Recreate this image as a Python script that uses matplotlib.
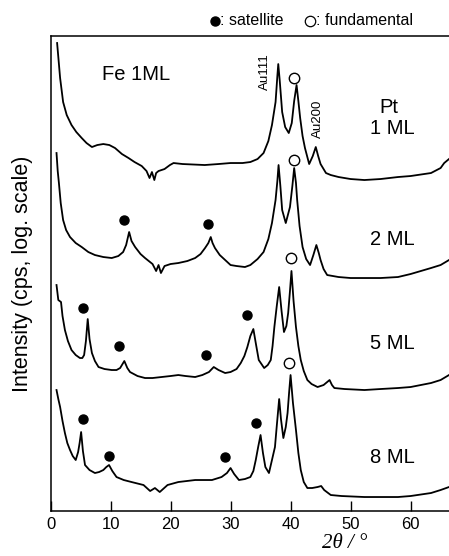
import matplotlib
matplotlib.use("Agg")
import matplotlib.pyplot as plt

plt.rcParams['font.family'] = ['Liberation Sans', 'DejaVu Sans']

# 2theta (deg) and stacked intensity (arb. units, log scale, offset)
tt_1ml = [1.1, 1.6, 2.1, 2.7, 3.5, 4.3, 5.2, 6.0, 6.9, 7.8, 8.8, 9.8, 10.75, 11.9, 13.0,
          14.0, 15.2, 16.0, 16.5, 16.9, 17.3, 17.6, 18.0, 19.0, 19.9, 20.5, 22.0, 25.7, 28.0,
          30.0, 32.0, 33.3, 34.5, 35.5, 36.3, 36.9, 37.5, 37.8, 37.95, 38.2, 38.6, 39.1, 39.7,
          40.2, 40.6, 41.0, 41.3, 41.6, 42.0, 42.4, 43.1, 43.7, 44.2, 44.6, 45.0, 45.9, 46.7,
          48.0, 50.0, 52.3, 55.0, 57.9, 60.0, 63.4, 65.0, 65.6, 66.4]
int_1ml = [468, 433, 409, 396, 386, 379, 373, 368, 364, 366, 367, 366, 363, 357, 353,
           349, 345, 340, 333, 339, 331, 338, 340, 342, 346, 348, 347, 346, 347,
           348, 348, 349, 352, 358, 370, 386, 409, 435, 447, 430, 399, 384, 378,
           388, 410, 426, 410, 393, 375, 363, 347, 355, 364, 355, 347, 338, 336,
           334, 332, 331, 332, 334, 335, 338, 343, 348, 352]

tt_2ml = [1.0, 1.2, 1.4, 1.7, 2.1, 2.6, 3.25, 4.2, 5.2, 6.3, 7.4, 8.8, 10.2, 11.3, 12.1,
          12.6, 13.1, 13.5, 14.1, 15.0, 15.75, 17.0, 17.6, 18.0, 18.4, 19.0, 20.0, 21.3, 22.8,
          24.1, 25.0, 25.75, 26.3, 26.7, 27.0, 27.4, 28.2, 29.1, 30.0, 31.0, 32.4, 33.3, 34.5,
          35.5, 36.3, 36.9, 37.5, 37.8, 38.0, 38.3, 38.6, 39.2, 39.9, 40.3, 40.6, 40.9, 41.1,
          41.5, 42.0, 42.6, 43.25, 43.8, 44.3, 44.7, 45.0, 45.5, 46.1, 48.0, 50.0, 52.3, 55.0,
          57.9, 60.0, 63.4, 65.0, 66.4]
int_2ml = [358, 340, 328, 308, 291, 281, 274, 268, 264, 259, 256, 254, 253, 255, 259,
           266, 279, 270, 264, 257, 253, 247, 240, 246, 238, 245, 247, 248, 250,
           253, 257, 263, 268, 274, 268, 263, 256, 251, 246, 245, 244, 246, 252,
           259, 272, 288, 311, 330, 346, 325, 301, 288, 304, 325, 343, 328, 311,
           285, 264, 252, 246, 256, 266, 258, 251, 242, 236, 234, 233, 233, 233,
           234, 237, 243, 246, 251]

tt_5ml = [1.0, 1.3, 1.75, 2.0, 2.4, 2.9, 3.5, 4.2, 4.9, 5.3, 5.6, 5.9, 6.2, 6.5, 6.9,
          7.4, 8.0, 9.0, 10.2, 11.0, 11.6, 12.3, 12.8, 13.25, 14.5, 15.75, 17.0, 18.5, 20.0,
          21.3, 22.5, 24.1, 25.3, 26.4, 27.2, 28.0, 29.1, 30.0, 31.0, 31.7, 32.3, 32.8, 33.3,
          33.8, 34.2, 34.7, 35.6, 36.2, 36.7, 37.0, 37.3, 37.7, 38.1, 38.5, 38.9, 39.3, 39.6,
          39.9, 40.15, 40.5, 40.9, 41.3, 41.7, 42.2, 42.8, 43.5, 44.5, 45.5, 46.5, 46.9, 47.3,
          49.0, 52.3, 55.0, 57.9, 60.0, 63.4, 65.0, 66.4]
int_5ml = [226, 211, 209, 195, 181, 170, 161, 156, 153, 153, 156, 170, 192, 172, 158,
           150, 144, 142, 141, 141, 143, 150, 143, 139, 135, 133, 133, 134, 135,
           136, 135, 134, 136, 139, 144, 141, 138, 139, 142, 148, 155, 164, 175,
           182, 168, 151, 143, 146, 151, 165, 184, 205, 224, 200, 179, 185, 198,
           220, 240, 210, 184, 165, 151, 140, 131, 127, 124, 126, 131, 126, 123,
           122, 121, 122, 123, 124, 128, 131, 136]

tt_8ml = [1.0, 1.3, 1.6, 2.0, 2.4, 2.8, 3.25, 3.7, 4.2, 4.6, 4.85, 5.1, 5.4, 5.75, 6.5,
          7.4, 8.1, 8.8, 9.3, 9.75, 10.3, 11.0, 12.2, 13.5, 15.5, 16.6, 17.4, 18.2, 19.5,
          21.3, 24.1, 26.9, 28.5, 29.4, 30.0, 30.6, 31.4, 32.4, 33.3, 33.8, 34.2, 34.6, 35.0,
          35.4, 35.8, 36.4, 36.9, 37.4, 37.7, 38.1, 38.4, 38.8, 39.2, 39.5, 39.75, 40.0, 40.4,
          40.9, 41.3, 41.7, 42.2, 42.8, 43.6, 44.5, 45.1, 45.6, 46.7, 48.5, 52.3, 55.0, 57.9,
          60.0, 63.4, 65.0, 66.4]
int_8ml = [121, 112, 104, 90, 78, 68, 61, 55, 51, 59, 68, 79, 60, 46, 41,
           38, 39, 41, 44, 46, 40, 34, 31, 29, 26, 20, 23, 19, 26,
           29, 31, 31, 34, 38, 43, 37, 31, 32, 34, 40, 51, 64, 76,
           58, 44, 38, 51, 64, 85, 112, 92, 73, 84, 98, 118, 136, 108,
           81, 58, 41, 29, 23, 23, 24, 25, 21, 16, 15, 14, 14, 14,
           15, 18, 21, 24]

# peak markers
sat_x = [12.3, 26.2, 5.35, 11.45, 25.9, 32.7, 5.35, 9.8, 29.1, 34.2]
sat_y = [291, 287, 203, 165, 156, 196, 92, 55, 54, 88]
fund_x = [40.5, 40.6, 40.0, 39.75]
fund_y = [433, 351, 253, 148]

labels = ["1 ML", "2 ML", "5 ML", "8 ML"]
label_y = [383, 272, 168, 54]

fig = plt.figure(figsize=(4.49, 5.56), dpi=100)
ax = fig.add_axes([0.1125, 0.0809, 0.8875, 0.8543])

for tt, inten in [(tt_1ml, int_1ml), (tt_2ml, int_2ml), (tt_5ml, int_5ml), (tt_8ml, int_8ml)]:
    ax.plot(tt, inten, color='black', lw=1.3)

ax.plot(sat_x, sat_y, 'o', color='black', ms=6.5, ls='none')
ax.plot(fund_x, fund_y, 'o', mfc='white', mec='black', mew=1.0, ms=7.5, ls='none')

ax.text(8.5, 437, "Fe 1ML", fontsize=14.5, ha='left', va='center')
ax.text(56.4, 404, "Pt", fontsize=14.5, ha='center', va='center')
for lab, y in zip(labels, label_y):
    ax.text(57.0, y, lab, fontsize=14.5, ha='center', va='center')
ax.text(35.75, 439, "Au111", fontsize=9.5, rotation=90, ha='center', va='center')
ax.text(44.5, 392, "Au200", fontsize=9.5, rotation=90, ha='center', va='center')

ax.set_xlim(0, 66.4)
ax.set_ylim(0, 475)
ax.set_xticks([0, 10, 20, 30, 40, 50, 60])
ax.set_yticks([])
ax.tick_params(axis='x', direction='in', length=7, width=1.0, labelsize=12, pad=4)
ax.spines['right'].set_visible(False)
for s in ['left', 'bottom', 'top']:
    ax.spines[s].set_linewidth(1.1)

ax.set_ylabel("Intensity (cps, log. scale)", fontsize=15.5)
ax.yaxis.set_label_coords(-0.044, 0.5)

fig.text(0.768, 0.0216, "2θ / °", fontsize=15, style='italic',
         family=['Liberation Serif', 'DejaVu Serif'], ha='center', va='center')

# legend line at the top
ax.plot([0.479], [0.9626], 'o', color='black', ms=6.5, transform=fig.transFigure, clip_on=False)
fig.text(0.490, 0.9626, ": satellite", fontsize=11.5, ha='left', va='center')
ax.plot([0.6915], [0.9626], 'o', mfc='white', mec='black', mew=0.9, ms=7.5,
        transform=fig.transFigure, clip_on=False)
fig.text(0.704, 0.9626, ": fundamental", fontsize=11.5, ha='left', va='center')

fig.savefig("out.png", dpi=100)
